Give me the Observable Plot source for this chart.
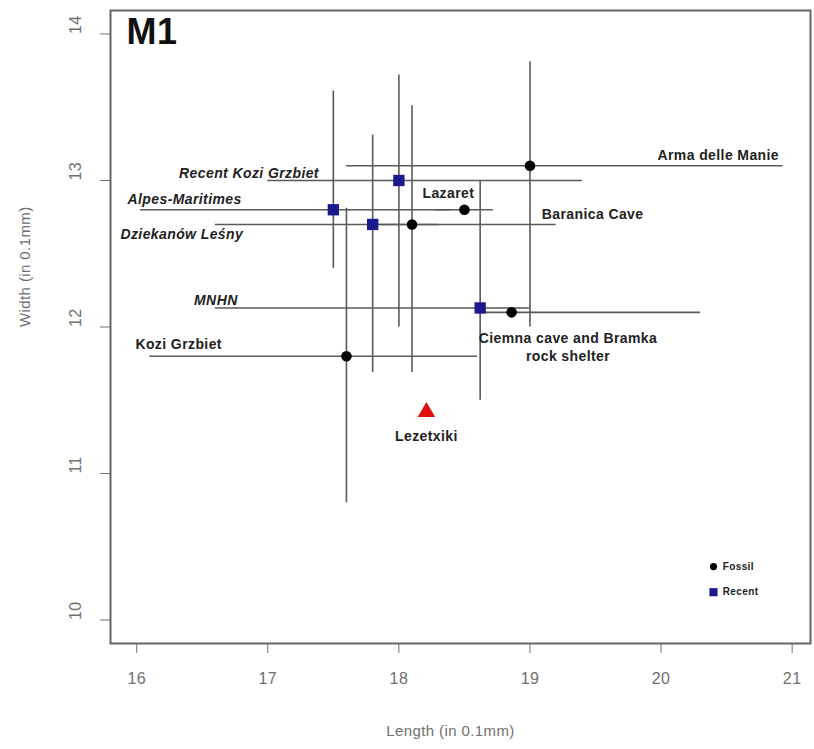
<!DOCTYPE html>
<html>
<head>
<meta charset="utf-8">
<script src="https://cdn.jsdelivr.net/npm/d3@7"></script>
<script src="https://cdn.jsdelivr.net/npm/@observablehq/plot@0.6"></script>
<style>
  html, body { margin: 0; padding: 0; background: #fff; }
  #chart svg text { letter-spacing: 0.4px; }
</style>
</head>
<body>
<div id="chart"></div>
<script>
// ---- data (lengths/widths in 0.1 mm) ----
const sites   = ["Arma delle Manie", "Lazaret", "Baranica Cave", "Ciemna cave and Bramka rock shelter", "Kozi Grzbiet",
                 "Recent Kozi Grzbiet", "Alpes-Maritimes", "Dziekanów Leśny", "MNHN"];
const groups  = ["Fossil", "Fossil", "Fossil", "Fossil", "Fossil", "Recent", "Recent", "Recent", "Recent"];
const lenMean = [19.0, 18.5, 18.1, 18.86, 17.6, 18.0, 17.5, 17.8, 18.62];
const widMean = [13.1, 12.8, 12.7, 12.1, 11.8, 13.0, 12.8, 12.7, 12.13];
const lenMin  = [17.6, 18.28, 17.8, 18.6, 16.1, 17.0, 16.03, 16.6, 16.6];
const lenMax  = [20.93, 18.72, 19.2, 20.3, 18.6, 19.4, 18.4, 18.3, 19.0];
const widMin  = [12.0, 12.8, 11.69, 12.1, 10.8, 12.0, 12.4, 11.69, 11.5];
const widMax  = [13.81, 12.8, 13.51, 12.1, 12.81, 13.72, 13.61, 13.31, 13.0];

const target = {name: "Lezetxiki", len: 18.21, wid: 11.42};

const xTicks = [16, 17, 18, 19, 20, 21];
const yTicks = [10, 11, 12, 13, 14];

// label annotations (anchor in data units)
const labelText   = ["Arma delle Manie", "Lazaret", "Baranica Cave", "Ciemna cave and Bramka\nrock shelter", "Kozi Grzbiet",
                     "Recent Kozi Grzbiet", "Alpes-Maritimes", "Dziekanów Leśny", "MNHN"];
const labelX      = [20.9, 18.18, 19.09, 19.29, 15.99, 17.39, 15.93, 15.876, 16.77];
const labelY      = [13.18, 12.92, 12.775, 11.867, 11.887, 13.06, 12.877, 12.638, 12.188];
const labelAnchor = ["end", "start", "start", "middle", "start", "end", "start", "start", "end"];

const legendItems = ["Fossil", "Recent"];
const legendY = [10.365, 10.19];

const rows = sites.map((s, i) => ({
  site: s, group: groups[i], len: lenMean[i], wid: widMean[i],
  lmin: lenMin[i], lmax: lenMax[i], wmin: widMin[i], wmax: widMax[i],
  label: labelText[i], lx: labelX[i], ly: labelY[i], anchor: labelAnchor[i]
}));
const fossil = rows.filter(d => d.group === "Fossil");
const recent = rows.filter(d => d.group === "Recent");
const legend = legendItems.map((g, i) => ({g, y: legendY[i]}));

const lineColor = "#5a5a5a";
const axisColor = "#707070";
const blue = "#1a1a8c";

const labelMarks = [];
for (const grp of ["Fossil", "Recent"]) {
  for (const a of ["start", "middle", "end"]) {
    const sub = rows.filter(d => d.group === grp && d.anchor === a);
    if (!sub.length) continue;
    labelMarks.push(Plot.text(sub, {
      x: "lx", y: "ly", text: "label", textAnchor: a, lineAnchor: "middle", lineHeight: 1.3,
      fontSize: 14, fontWeight: "bold", fontStyle: grp === "Recent" ? "italic" : "normal", fill: "#222"
    }));
  }
}

const chart = Plot.plot({
  width: 814,
  height: 749,
  marginLeft: 110,
  marginRight: 4,
  marginTop: 10,
  marginBottom: 106,
  x: {domain: [15.8, 21.14]},
  y: {domain: [9.84, 14.16]},
  style: {fontFamily: "'Liberation Sans', Arial, sans-serif", background: "#fff"},
  marks: [
    Plot.axisX({ticks: xTicks, tickSize: 10, tickPadding: 19, fontSize: 16, color: axisColor, label: null, tickFormat: d => String(d)}),
    Plot.axisY({ticks: yTicks, tickSize: 10, tickFormat: () => "", color: axisColor, label: null}),
    Plot.text(yTicks, {y: d => d, text: d => String(d), frameAnchor: "left", dx: -35, rotate: -90, fontSize: 16, fill: axisColor}),
    Plot.text(["Length (in 0.1mm)"], {text: d => d, frameAnchor: "bottom", dx: -10, dy: 92, fontSize: 15, fill: axisColor}),
    Plot.text(["Width (in 0.1mm)"], {text: d => d, frameAnchor: "left", dx: -85, rotate: -90, fontSize: 15, fill: axisColor}),
    // error bars
    Plot.ruleY(rows, {y: "wid", x1: "lmin", x2: "lmax", stroke: lineColor, strokeWidth: 1.6}),
    Plot.ruleX(rows.filter(d => d.wmax > d.wmin), {x: "len", y1: "wmin", y2: "wmax", stroke: lineColor, strokeWidth: 1.6}),
    // points
    Plot.dot(fossil, {x: "len", y: "wid", symbol: "circle", r: 5.3, fill: "#000", stroke: null}),
    Plot.dot(recent, {x: "len", y: "wid", symbol: "square", r: 6.4, fill: blue, stroke: null}),
    Plot.dot([target], {x: "len", y: "wid", symbol: "triangle", r: 6.5, fill: "#e01010", stroke: null}),
    // labels
    ...labelMarks,
    Plot.text([target], {x: "len", y: "wid", text: "name", dy: 25, fontSize: 14, fontWeight: "bold", fill: "#222"}),
    Plot.text(["M1"], {text: d => d, frameAnchor: "top-left", dx: 16, dy: 8, textAnchor: "start", lineAnchor: "top", fontSize: 36, fontWeight: "bold", fill: "#111"}),
    // legend
    Plot.dot(legend.filter(d => d.g === "Fossil"), {x: () => 20.4, y: "y", symbol: "circle", r: 3.6, fill: "#000"}),
    Plot.dot(legend.filter(d => d.g === "Recent"), {x: () => 20.4, y: "y", symbol: "square", r: 4.6, fill: blue}),
    Plot.text(legend, {x: () => 20.47, y: "y", text: "g", textAnchor: "start", fontSize: 10, fontWeight: "bold", fill: "#222"}),
    Plot.frame({stroke: "#666", strokeWidth: 2})
  ]
});
document.getElementById("chart").appendChild(chart);
</script>
</body>
</html>
